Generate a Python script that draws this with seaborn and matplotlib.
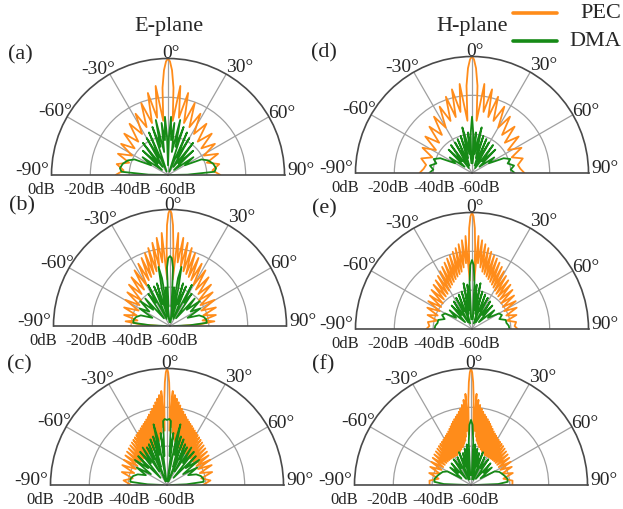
import numpy as np
import matplotlib.pyplot as plt
import seaborn as sns
from matplotlib.lines import Line2D

# ==========================================
# Style
# ==========================================
sns.set_style("white")
plt.rcParams['font.family'] = ['Liberation Serif', 'DejaVu Serif']

PEC_COLOR = "#ff8c1a"
DMA_COLOR = "#168a16"

# ==========================================
# Data: half patterns (0..90 deg), dB; mirrored for -90..0
# ==========================================
theta_ticks = [-90, -60, -30, 0, 30, 60, 90]
theta_labels = ["-90°", "-60°", "-30°", "0°", "30°", "60°", "90°"]
db_labels = ["0dB", "-20dB", "-40dB", "-60dB"]

# (a) E-plane
a_pec_th = [0, 1.0, 2.2, 3.6, 5.0, 7.9, 10.8, 13.8, 17.1, 20.4, 24.1, 27.9, 32.3, 36.9,
            41.7, 46.6, 51.4, 56.4, 61.6, 67.0, 72.4, 78.0, 84.0, 90.0]
a_pec_db = [0, -1.5, -6, -15, -32, -13.7, -30, -16.5, -32, -20.5, -33, -24.3, -35, -27,
            -37, -29, -38, -31, -39, -32, -39, -33, -37, -33]
a_dma_th = [0, 1.5, 3, 5, 7, 9.5, 12.5, 15, 18, 21, 24, 27, 30, 34, 38, 42, 46, 50, 55,
            60, 65, 70, 76, 82, 86, 89, 90]
a_dma_db = [-55, -40, -30, -42, -33, -48, -31, -45, -34, -58, -36, -50, -38, -55, -39,
            -52, -42, -56, -44, -50, -41, -38, -36, -35, -36, -50, -60]

# (b) E-plane
b_pec_th = [0, 0.8, 1.7, 2.5, 3.4, 5.1, 6.9, 8.6, 10.3, 12.0, 13.8, 15.6, 17.3, 19.0,
            20.9, 22.7, 24.8, 27.0, 29.8, 32.5, 35.5, 38.4, 41.6, 44.8, 48.3, 51.7, 55.6,
            59.6, 63.8, 68.0, 72.3, 76.5, 80.3, 84.0, 87.0, 90.0]
b_pec_db = [0, -2, -8, -20, -36, -11.9, -27, -14.1, -29, -16.2, -31, -18.3, -32, -20.3,
            -33, -22, -34, -24, -36, -26, -37, -28, -38, -30, -40, -32, -41, -33.4, -42,
            -34.5, -42, -35.7, -43, -37, -45, -55]
b_dma_th = [0, 1.5, 3, 4.5, 6, 8, 9.5, 11, 12.5, 14.5, 17, 19.5, 22, 25, 28, 31, 34, 38,
            42, 46, 50, 55, 60, 65, 70, 75, 80, 85, 88, 90]
b_dma_db = [-24, -25, -30, -50, -40, -58, -35, -29, -40, -55, -37, -48, -38, -56, -36,
            -46, -40, -55, -41, -48, -40, -47, -42, -50, -44, -42, -41, -41, -50, -58]

# (c) E-plane and (f) H-plane share the lobe angles
fan_th = [0, 0.6, 1.2, 1.8, 2.5, 3.5, 4.2, 5.0, 5.8, 6.5, 7.2, 8.0, 8.8, 9.5, 10.2, 11.0,
          11.8, 12.6, 13.4, 14.2, 15.0, 15.8, 16.6, 17.5, 18.4, 19.2, 20.1, 21.0, 22.0,
          22.9, 23.9, 24.9, 26.0, 27.0, 28.1, 29.2, 30.4, 31.5, 32.8, 34.0, 35.4, 36.7,
          38.2, 39.6, 41.2, 42.8, 44.6, 46.3, 48.2, 50.2, 52.4, 54.6, 57.2, 59.7, 62.8,
          66.0, 70.0, 74.0, 79.0, 84.0, 90.0]
c_pec_db = [0, -2, -7, -16, -32, -11.5, -30, -13.5, -33, -15.3, -35, -17, -36, -18.5,
            -37, -20, -38, -21.3, -38, -22.5, -39, -23.6, -39, -24.6, -40, -25.5, -40,
            -26.3, -40, -27, -41, -27.8, -41, -28.5, -41, -29.2, -41, -29.8, -42, -30.4,
            -42, -31, -42, -31.6, -42, -32.2, -42, -32.7, -42, -33.2, -42, -33.7, -42,
            -34.2, -42, -34.8, -42, -35.8, -42, -37.5, -41.5]
c_dma_th = [0, 2, 3.5, 5, 7, 9, 11, 12.5, 14, 16, 18, 20, 22, 24, 26, 28, 30, 33, 36, 39,
            42, 45, 48, 52, 56, 60, 65, 70, 75, 80, 85, 88, 90]
c_dma_db = [-26.5, -26, -27, -45, -33, -58, -36, -28, -44, -34, -50, -35, -58, -37, -45,
            -38, -52, -37, -46, -38, -55, -39, -47, -39, -50, -42, -48, -44, -42, -41,
            -41, -50, -58]

# (d) H-plane
d_pec_th = [0, 1.0, 2.2, 3.6, 5.0, 7.9, 10.7, 13.5, 16.2, 18.9, 22.4, 26.0, 30.0, 34.0,
            38.3, 42.6, 47.3, 52.0, 57.5, 63.0, 68.5, 74.0, 80.0, 85.0, 90.0]
d_pec_db = [0, -1.5, -6, -15, -33, -13.7, -28, -15.7, -30, -18.5, -31, -22, -33, -25,
            -35, -27.6, -37, -29.5, -38, -31.4, -38, -32.8, -36, -35, -33]
d_dma_th = [0, 2, 3.5, 5.5, 8, 10, 12, 14.5, 17, 20, 23, 26, 29, 33, 37, 41, 45, 50, 55,
            60, 65, 70, 75, 80, 85, 90]
d_dma_db = [-31, -40, -55, -39, -50, -42, -36, -52, -40, -56, -41, -53, -42, -57, -42,
            -52, -43, -55, -46, -50, -42, -39, -41, -38, -40, -38]

# (e) H-plane
e_pec_th = [0, 0.8, 1.6, 2.2, 2.7, 4.0, 5.2, 6.5, 7.7, 9.0, 10.2, 11.5, 12.7, 14.0, 15.4,
            16.8, 18.1, 19.5, 21.0, 22.5, 24.1, 25.7, 27.3, 29.0, 30.8, 32.7, 34.7, 36.7,
            38.8, 41.0, 43.5, 46.0, 48.7, 51.5, 54.5, 57.5, 61.0, 64.5, 68.5, 72.5, 76.5,
            81.0, 86.0, 90.0]
e_pec_db = [0, -2, -8, -18, -35, -12, -26, -14, -28, -15.8, -30, -17.5, -31, -19, -32,
            -20.5, -33, -21.5, -34, -23, -35, -24.5, -36, -26, -37, -27.5, -38, -28.7,
            -38.5, -29.8, -39, -31, -40, -32.3, -40.5, -33.3, -41, -34.5, -41, -36, -41.5,
            -37, -38, -36.5]
e_dma_th = [0, 1.5, 3, 4.5, 6, 8, 10.5, 13, 15.5, 18, 21, 24, 27, 30, 33.5, 37, 41, 45,
            50, 55, 60, 65, 70, 75, 80, 85, 90]
e_dma_db = [-24.5, -27, -36, -55, -37, -50, -36, -52, -40, -57, -41, -50, -42, -56, -43,
            -51, -44, -55, -45, -50, -44, -43, -45, -42, -42, -41, -40.7]

# (f) H-plane
f_pec_db = [0, -2, -7, -16, -34, -13, -32, -16, -35, -18.5, -37, -20.3, -38, -21.8, -39,
            -23, -40, -24, -40, -25, -41, -26, -41, -27, -42, -28, -42, -29, -42, -30,
            -43, -30.8, -43, -31.5, -43, -32.1, -43, -32.7, -43, -33.2, -43, -33.6, -43,
            -34, -43, -34.5, -43, -35, -43, -35.4, -43, -35.8, -43, -36.3, -43, -37, -43,
            -37.6, -43, -38.5, -38.7]
f_dma_th = [0, 1.5, 3, 4.5, 6, 8, 10, 12, 14, 17, 20, 23, 26, 30, 34, 38, 42, 46, 50, 55,
            60, 65, 70, 75, 80, 85, 88, 90]
f_dma_db = [-26.5, -29, -38, -55, -39, -50, -41, -57, -43, -50, -42, -57, -44, -50, -44,
            -56, -45, -51, -46, -54, -46, -44, -43, -42, -41, -41, -46, -58]

panels = [
    ("(a)", 168, 176, a_pec_th, a_pec_db, a_dma_th, a_dma_db),
    ("(b)", 170, 327, b_pec_th, b_pec_db, b_dma_th, b_dma_db),
    ("(c)", 167, 486, fan_th, c_pec_db, c_dma_th, c_dma_db),
    ("(d)", 472, 174, d_pec_th, d_pec_db, d_dma_th, d_dma_db),
    ("(e)", 472, 330, e_pec_th, e_pec_db, e_dma_th, e_dma_db),
    ("(f)", 471, 486, fan_th, f_pec_db, f_dma_th, f_dma_db),
]

# label offsets (pixels from the pole) for the angle labels
angle_label_pos = [(-136, -5), (-113, -64), (-70, -107), (3, -122), (72, -109),
                   (114, -63), (133, -5)]


def mirror(th, db):
    th = np.asarray(th, float)
    db = np.asarray(db, float)
    return np.concatenate([-th[:0:-1], th]), np.concatenate([db[:0:-1], db])


# ==========================================
# Figure
# ==========================================
W, H = 623, 510
R = 116.5
fig = plt.figure(figsize=(W / 100, H / 100), dpi=100)

for label, cx, cy, pth, pdb, dth, ddb in panels:
    # half-disc is fitted into a square box, centred vertically
    ax = fig.add_axes([(cx - R) / W, (H - (cy + 0.5 * R)) / H, 2 * R / W, 2 * R / H],
                      projection="polar")

    th, db = mirror(pth, pdb)
    sns.lineplot(x=np.deg2rad(th), y=db, ax=ax, color=PEC_COLOR, lw=1.3,
                 sort=False, estimator=None, legend=False)
    th, db = mirror(dth, ddb)
    sns.lineplot(x=np.deg2rad(th), y=db, ax=ax, color=DMA_COLOR, lw=1.3,
                 sort=False, estimator=None, legend=False)

    ax.set_theta_zero_location("N")
    ax.set_theta_direction(-1)
    ax.set_thetamin(-90)
    ax.set_thetamax(90)
    ax.set_ylim(-60, 0)
    ax.set_rgrids([-40, -20], labels=["", ""])
    ax.set_thetagrids(theta_ticks, labels=[""] * len(theta_ticks))
    ax.grid(True, color="#a0a0a0", lw=0.9)
    ax.set_xlabel("")
    ax.set_ylabel("")
    for sp in ax.spines.values():
        sp.set_color("#4a4a4a")
        sp.set_linewidth(1.2)

    for (dx, dy), txt in zip(angle_label_pos, theta_labels):
        fig.text((cx + dx) / W, 1 - (cy + dy) / H, txt, fontsize=14,
                 ha="center", va="center")

    fig.text((cx - 148) / W, 1 - (cy - 121) / H, label, fontsize=16,
             ha="center", va="center")
    for off, txt in zip([-126.7, -83.8, -37.5, 7.3], db_labels):
        fig.text((cx + off) / W, 1 - (cy + 14.5) / H, txt, fontsize=12,
                 ha="center", va="center")

fig.text(169 / W, 1 - 26 / H, "E-plane", fontsize=16, ha="center", va="center")
fig.text(472 / W, 1 - 26 / H, "H-plane", fontsize=16, ha="center", va="center")

# legend
for y, name, col in [(14, "PEC", PEC_COLOR), (42, "DMA", DMA_COLOR)]:
    fig.add_artist(Line2D([513 / W, 557 / W], [1 - y / H, 1 - y / H], color=col, lw=2.6))
    fig.text(621 / W, 1 - y / H, name, fontsize=16, ha="right", va="center")

fig.savefig("out.png", dpi=100)
